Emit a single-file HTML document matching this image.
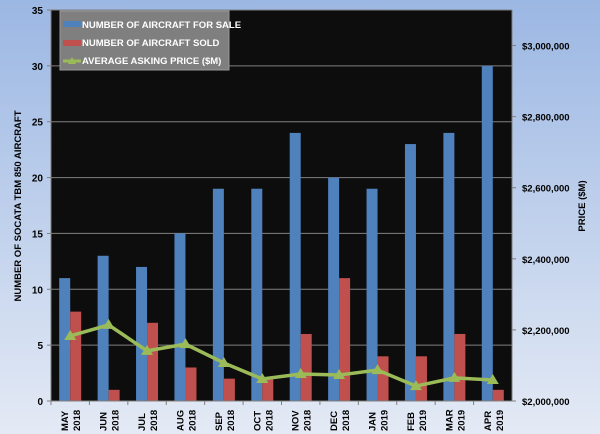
<!DOCTYPE html>
<html><head><meta charset="utf-8"><style>
body{margin:0;width:600px;height:434px;overflow:hidden}
svg{display:block;font-family:"Liberation Sans",sans-serif;font-weight:bold}
</style></head><body>
<svg id="chart" width="600" height="434" xmlns="http://www.w3.org/2000/svg">
<defs><linearGradient id="bg" x1="0" y1="0" x2="0" y2="1"><stop offset="0" stop-color="#9bb7e3"/><stop offset="1" stop-color="#e4eaf5"/></linearGradient></defs>
<rect width="600" height="434" fill="url(#bg)"/>
<rect x="51" y="10" width="461" height="391" fill="#0d0d0d"/>
<g id="grid"></g><g id="bars"></g><g id="line"></g><g id="axes"></g>
<g>
<rect x="60" y="11" width="169" height="59" fill="#7f7f7f" stroke="#999"/>
<rect x="63" y="21" width="18" height="6" fill="#4f81bd"/>
<text x="82" y="28" font-size="9.5" fill="#fff">NUMBER OF AIRCRAFT FOR SALE</text>
<rect x="63" y="40" width="18" height="6" fill="#c0504d"/>
<text x="82" y="46" font-size="9.5" fill="#fff">NUMBER OF AIRCRAFT SOLD</text>
<line x1="63" y1="61" x2="81" y2="61" stroke="#9bbb59" stroke-width="3"/>
<polygon points="72,57 76,64 68,64" fill="#9bbb59"/>
<text x="82" y="64" font-size="9.5" fill="#fff">AVERAGE ASKING PRICE ($M)</text>
</g>
<text transform="translate(21,206) rotate(-90)" text-anchor="middle" font-size="9.5" fill="#000">NUMBER OF SOCATA TBM 850 AIRCRAFT</text>
<text transform="translate(585,206) rotate(-90)" text-anchor="middle" font-size="9.5" fill="#000">PRICE ($M)</text>
</svg>
<script>
const months=["MAY","JUN","JUL","AUG","SEP","OCT","NOV","DEC","JAN","FEB","MAR","APR"];
const years=["2018","2018","2018","2018","2018","2018","2018","2018","2019","2019","2019","2019"];
const forSale=[11,13,12,15,19,19,24,20,19,23,24,30];
const sold=[8,1,7,3,2,2,6,11,4,4,6,1];
const price=[2183000,2214000,2141000,2160000,2107000,2062000,2076000,2073000,2087000,2042000,2065000,2059000];
const leftTicks=[0,5,10,15,20,25,30,35];
const rightTicks=[2000000,2200000,2400000,2600000,2800000,3000000];
const NS="http://www.w3.org/2000/svg";
const L=51,R=512,T=10,B=401,bw=(R-L)/months.length;
const y1=v=>B-(v/35)*(B-T);
const y2=v=>B-((v-2000000)/1100000)*(B-T);
const xc=i=>L+bw*(i+0.5);
function mk(t,a,p){const e=document.createElementNS(NS,t);for(const k in a)e.setAttribute(k,a[k]);p.appendChild(e);return e;}
const g=document.getElementById('grid'),bars=document.getElementById('bars'),ln=document.getElementById('line'),ax=document.getElementById('axes');
leftTicks.forEach(v=>{
 if(v>0){const l=mk('line',{x1:L,x2:R,y1:y1(v),y2:y1(v),stroke:'#808080','stroke-width':1},g);
 
 }
 mk('line',{x1:L-4,x2:L,y1:y1(v),y2:y1(v),stroke:'#808080'},ax);
 const t=mk('text',{x:L-8,y:y1(v)+4,'text-anchor':'end','font-size':10},ax);t.textContent=v;
 
 
});
rightTicks.forEach(v=>{
 mk('line',{x1:R,x2:R+4,y1:y2(v),y2:y2(v),stroke:'#808080'},ax);
 const t=mk('text',{x:522,y:y2(v)+4,'font-size':9.5},ax);t.textContent='$'+v.toLocaleString('en-US');
 
 
});
mk('line',{x1:L,x2:L,y1:T,y2:B,stroke:'#808080'},ax);
mk('line',{x1:R,x2:R,y1:T,y2:B,stroke:'#808080'},ax);
mk('line',{x1:L,x2:R,y1:B,y2:B,stroke:'#808080'},ax);
months.forEach((m,i)=>{
 const x=xc(i);
 const b=mk('rect',{x:x-11,y:y1(forSale[i]),width:11,height:B-y1(forSale[i]),fill:'#4f81bd'},bars);
 
 
 const s=mk('rect',{x:x,y:y1(sold[i]),width:11,height:B-y1(sold[i]),fill:'#c0504d'},bars);
 
 
 mk('line',{x1:L+bw*i,x2:L+bw*i,y1:B,y2:B+4,stroke:'#808080'},ax);
 const t=mk('text',{transform:`translate(${x-2},${B+30}) rotate(-90)`,'font-size':9.5},ax);t.textContent=m;
 
 
 const t2=mk('text',{transform:`translate(${x+10},${B+30}) rotate(-90)`,'font-size':9.5},ax);t2.textContent=years[i];
 
 
});
const pl=mk('polyline',{points:price.map((v,i)=>xc(i)+','+y2(v)).join(' '),fill:'none',stroke:'#9bbb59','stroke-width':3.5},ln);


price.forEach((v,i)=>{const x=xc(i),y=y2(v);
 const p=mk('polygon',{points:`${x},${y-6} ${x+6},${y+4} ${x-6},${y+4}`,fill:'#9bbb59'},ln);
 
 
});
</script>
</body></html>
